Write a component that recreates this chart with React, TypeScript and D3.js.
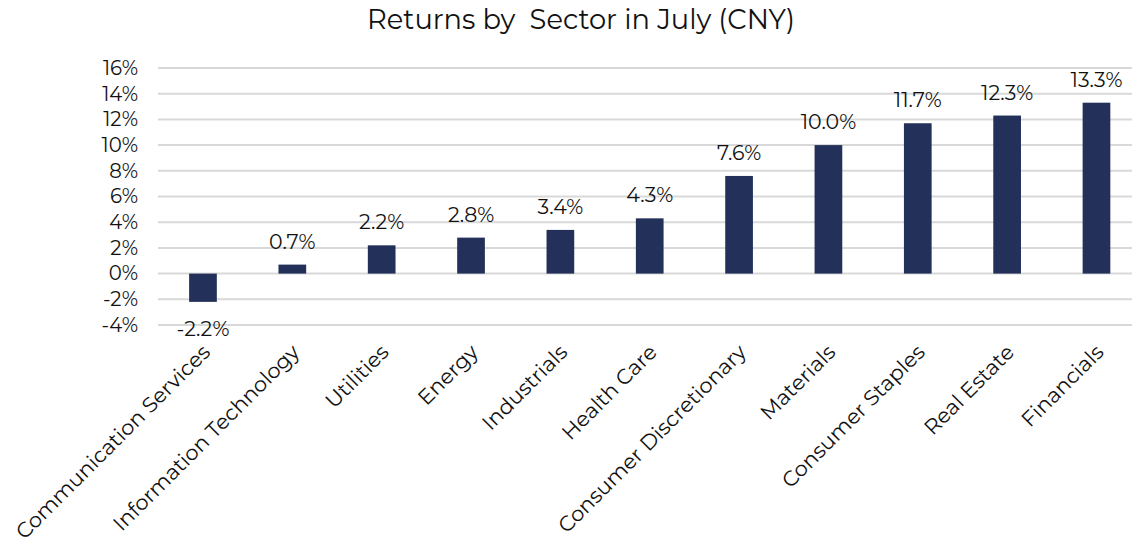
import React from "react";
import * as d3 from "d3";

const categories = [
  "Communication Services",
  "Information Technology",
  "Utilities",
  "Energy",
  "Industrials",
  "Health Care",
  "Consumer Discretionary",
  "Materials",
  "Consumer Staples",
  "Real Estate",
  "Financials",
];
const returns = [-2.2, 0.7, 2.2, 2.8, 3.4, 4.3, 7.6, 10.0, 11.7, 12.3, 13.3];
const yTicks = [-4, -2, 0, 2, 4, 6, 8, 10, 12, 14, 16];
const title = "Returns by  Sector in July (CNY)";

const W = 1132;
const H = 542;
const FONT = "Montserrat, 'Open Sans', sans-serif";

export default function App() {
  const x = d3
    .scaleBand<string>()
    .domain(categories)
    .range([158.3, 158.3 + 11 * 89.35])
    .paddingInner(0.69)
    .paddingOuter(0.345);
  const y = d3.scaleLinear().domain([-4, 16]).range([325, 68]);
  const bw = x.bandwidth();

  return (
    <svg
      width={W}
      height={H}
      style={{ position: "absolute", left: 0, top: 0, background: "#fff" }}
      fontFamily={FONT}
    >
      <text
        x={581}
        y={29}
        textAnchor="middle"
        fontSize={27.3}
        fill="#111"
        style={{ whiteSpace: "pre" }}
      >
        {title}
      </text>
      {yTicks.map((t) => (
        <g key={t}>
          <line x1={158} x2={1141} y1={y(t)} y2={y(t)} stroke="#d9d9d9" strokeWidth={2} />
          <text x={138} y={y(t)} dy="0.35em" textAnchor="end" fontSize={19.7} fill="#111">
            {`${t}%`}
          </text>
        </g>
      ))}
      {categories.map((c, i) => {
        const v = returns[i];
        const cx = (x(c) as number) + bw / 2;
        const y0 = y(0);
        const y1 = y(v);
        return (
          <g key={c}>
            <rect
              x={x(c)}
              width={bw}
              y={Math.min(y0, y1)}
              height={Math.abs(y1 - y0)}
              fill="#22305a"
            />
            <text
              x={cx}
              y={v >= 0 ? y1 - 16 : y1 + 34}
              textAnchor="middle"
              fontSize={20.5}
              fill="#111"
            >
              {`${v.toFixed(1)}%`}
            </text>
            <text
              transform={`translate(${cx - 2},${343}) rotate(-45)`}
              textAnchor="end"
              dy="0.7em"
              fontSize={21.1}
              fill="#111"
            >
              {c}
            </text>
          </g>
        );
      })}
    </svg>
  );
}
